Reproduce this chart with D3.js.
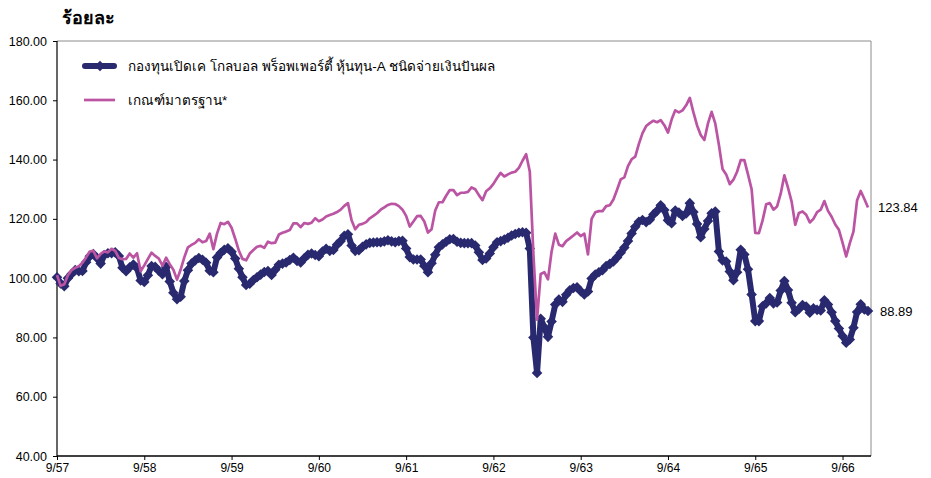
<!DOCTYPE html>
<html>
<head>
<meta charset="utf-8">
<script src="https://cdn.jsdelivr.net/npm/d3@7"></script>
<style>
  body { margin: 0; background: #fff; }
  svg text { font-family: "Liberation Sans", Arial, "Noto Sans", sans-serif; fill: #000; }
</style>
</head>
<body>
<div id="chart"></div>
<script>
(function(){
// half-month steps starting end of Sep 2557 (2014)
const tickLabels = ['9/57', '9/58', '9/59', '9/60', '9/61', '9/62', '9/63', '9/64', '9/65', '9/66']
const yTicks = [40, 60, 80, 100, 120, 140, 160, 180]

const fundName = 'กองทุนเปิดเค โกลบอล พร็อพเพอร์ตี้ หุ้นทุน-A ชนิดจ่ายเงินปันผล'
const benchName = 'เกณฑ์มาตรฐาน*'

const fund = [
  100.3, 98.2, 97.3, 100, 101.4, 102.7, 102.3, 102.4, 105.4, 107.4, 108.1, 106.8,
  104.9, 107.8, 108.4, 108.4, 108.7, 107.5, 103.5, 102.3, 103.7, 104.6, 103.4, 99.2,
  98.7, 101, 104.1, 103.8, 102.5, 101.3, 103.8, 98.9, 95.1, 92.9, 93.7, 99,
  102.7, 104.9, 106, 106.8, 106.2, 105.2, 102.5, 102, 107, 108.5, 109.6, 110.1,
  108.9, 106.6, 103.2, 100.3, 97.7, 98.1, 99.4, 100.3, 101.2, 102.1, 102.4, 101.1,
  102.8, 104.5, 104.9, 105.3, 106.1, 106.9, 105.8, 105.3, 106.7, 107.9, 108.3, 107.8,
  107.4, 109, 109.9, 109.2, 109.5, 111.3, 112.5, 114.3, 114.8, 111, 109.2, 109.4,
  110.6, 111.4, 111.9, 112, 112.1, 112.1, 112.4, 112.8, 112.4, 112.1, 112.5, 112.6,
  110, 107.1, 106.3, 106.3, 106.3, 104.1, 102, 105, 107.9, 110.4, 111.4, 112.3,
  113.1, 113.2, 112.3, 111.9, 111.8, 111.8, 111.8, 111, 108.7, 106.1, 106.6, 108.3,
  110.4, 112.1, 112.5, 113, 113.6, 114.4, 114.9, 115.3, 115.5, 115.3, 110, 80,
  68, 86.3, 83.4, 80.2, 85.4, 91.1, 92.8, 92, 94.4, 95.9, 96.7, 96.9,
  95.6, 94.5, 95.5, 99.9, 101.2, 102, 102.7, 104.1, 104.8, 105.6, 107, 108.6,
  110.3, 112.5, 115.1, 117.3, 119, 119.6, 118.9, 119.7, 121.5, 122.7, 124.6, 123,
  119.5, 118.5, 122.8, 122.1, 121, 121.8, 125.3, 122.3, 118.3, 113.8, 116.6, 119.3,
  121.9, 122.5, 109, 106, 105.6, 102.2, 99.3, 102, 109.6, 108, 103, 94.5,
  85.5, 85.5, 90.5, 91.5, 93.3, 91.5, 91.8, 95.8, 99, 96, 91.7, 88.5,
  89.6, 90.9, 90.4, 88.3, 89.8, 89.3, 89.1, 92.5, 91.1, 88.5, 85.5, 83,
  80.5, 78.2, 79.3, 83.3, 88.6, 91.2, 89.4, 88.89
]

const bench = [
  101, 97.4, 97.9, 101, 102.7, 103.5, 104, 105.2, 107, 109, 109.2, 106.7,
  108.2, 109, 108.7, 109.9, 109.2, 106.8, 106.4, 106.5, 108.3, 106.9, 108.4, 102.3,
  104.3, 106.5, 108.6, 107.5, 106.6, 104.2, 106.9, 104.7, 102.8, 99.5, 102.9, 107,
  110.4, 111.2, 111.9, 113.1, 112.1, 112.5, 115, 109.8, 115, 118.6, 118.2, 119,
  117, 113.3, 109.3, 106.5, 106, 108.3, 109.5, 110.6, 110.9, 110.2, 112.3, 111.8,
  112, 114.7, 115.3, 115.7, 116.2, 118.5, 118.5, 117.2, 118.6, 118.3, 118.7, 120.2,
  119.2, 119.8, 120.8, 121.3, 121.7, 122.3, 123.1, 124.4, 125.3, 119.5, 116.5, 118,
  118.3, 118.9, 120.2, 121, 121.9, 123.1, 123.9, 124.7, 125.1, 125, 124.3, 123.1,
  121, 117.4, 119.1, 120.9, 121, 119.1, 115.4, 116.5, 122.8, 125.6, 125.6, 127.8,
  129.7, 129.7, 128, 128.8, 128.8, 129.1, 130.6, 130, 128, 126.3, 129.3, 130.3,
  131.8, 133.8, 135.5, 134.3, 135, 135.6, 135.9, 137.2, 139.6, 141.8, 136, 108,
  86, 101.4, 102, 99.6, 109, 115, 111.3, 110.8, 112.5, 113.4, 114.4, 115.4,
  114.2, 115, 108, 120, 122.2, 122.6, 122.6, 124.3, 124.6, 126.5, 129.8, 133.3,
  134, 137.8, 140.1, 141, 145.3, 148.9, 151.3, 152.3, 153.1, 152.6, 153.3, 151.6,
  149.1, 153.5, 156.6, 155.9, 156.6, 158.3, 160.8, 155.9, 151.5, 148.3, 146.6, 152.2,
  156.1, 152.2, 145, 136.8, 135, 131.7, 133.2, 135.9, 139.8, 139.8, 135, 130,
  115.3, 115.2, 119.4, 124.9, 125.3, 123.1, 124.2, 128.5, 134.7, 130.5, 125.8, 118,
  122, 122.5, 121.4, 118.8, 120, 122.3, 123.1, 126, 122.7, 120.7, 118.1, 116.3,
  112, 107.3, 111.8, 115.7, 126.3, 129.4, 126.7, 123.84
]

const navy = '#29296f'
const pink = '#bb55a3'

let svg = d3.select('#chart').append('svg')
  .attr('width', 931)
  .attr('height', 478)

let plotLeft = 57, plotRight = 871, plotTop = 41, plotBottom = 456

let x = d3.scaleLinear().domain([0, fund.length - 1]).range([plotLeft, 868])
let y = d3.scaleLinear().domain([40, 180]).range([plotBottom, plotTop])

// frame
svg.append('line').attr('x1', plotLeft).attr('x2', plotRight).attr('y1', plotTop).attr('y2', plotTop)
  .attr('stroke', '#8c8c8c').attr('stroke-width', 1)
svg.append('line').attr('x1', plotRight).attr('x2', plotRight).attr('y1', plotTop).attr('y2', plotBottom)
  .attr('stroke', '#8c8c8c').attr('stroke-width', 1)

// axes
let yAxis = d3.axisLeft(y).tickValues(yTicks).tickFormat(d3.format('.2f')).tickSize(4).tickPadding(6)
let gy = svg.append('g').attr('transform', 'translate(' + plotLeft + ',0)').call(yAxis)
gy.select('.domain').remove()
gy.selectAll('text').attr('font-size', 12.5).style('font-family', '"Liberation Sans", Arial, sans-serif')
gy.selectAll('line').attr('stroke', '#000')

let xAxis = d3.axisBottom(x)
  .tickValues(tickLabels.map((d, i) => i * 24))
  .tickFormat((d, i) => tickLabels[i])
  .tickSize(4).tickPadding(3)
let gx = svg.append('g').attr('transform', 'translate(0,' + plotBottom + ')').call(xAxis)
gx.select('.domain').remove()
gx.selectAll('text').attr('font-size', 12).style('font-family', '"Liberation Sans", Arial, sans-serif')
gx.selectAll('line').attr('stroke', '#000')

svg.append('line').attr('x1', plotLeft).attr('x2', plotLeft).attr('y1', plotTop).attr('y2', plotBottom)
  .attr('stroke', '#000').attr('stroke-width', 1.2)
svg.append('line').attr('x1', plotLeft).attr('x2', plotRight).attr('y1', plotBottom).attr('y2', plotBottom)
  .attr('stroke', '#000').attr('stroke-width', 1.5)

// title
svg.append('text').attr('x', 62).attr('y', 24)
  .attr('font-size', 18).attr('font-weight', 'bold').text('ร้อยละ')

let line = d3.line().x((d, i) => x(i)).y(d => y(d))
let diamond = d3.symbol().type(d3.symbolSquare).size(56)

// fund series
svg.append('path').datum(fund)
  .attr('d', line).attr('fill', 'none')
  .attr('stroke', navy).attr('stroke-width', 6).attr('stroke-linejoin', 'round')
svg.append('g').selectAll('path')
  .data(fund)
  .enter().append('path')
  .attr('d', diamond)
  .attr('transform', (d, i) => 'translate(' + x(i) + ',' + y(d) + ') rotate(45)')
  .attr('fill', navy)

// benchmark series
svg.append('path').datum(bench)
  .attr('d', line).attr('fill', 'none')
  .attr('stroke', pink).attr('stroke-width', 2.7).attr('stroke-linejoin', 'round')

// end labels
svg.append('text').attr('x', 878).attr('y', y(bench[bench.length - 1]) + 5)
  .attr('font-size', 13).text(d3.format('.2f')(bench[bench.length - 1]))
svg.append('text').attr('x', 880).attr('y', y(fund[fund.length - 1]) + 5)
  .attr('font-size', 13).text(d3.format('.2f')(fund[fund.length - 1]))

// legend
let lg = svg.append('g')
lg.append('line').attr('x1', 85).attr('x2', 114).attr('y1', 66).attr('y2', 66)
  .attr('stroke', navy).attr('stroke-width', 6).attr('stroke-linecap', 'round')
lg.append('path').attr('d', diamond).attr('transform', 'translate(100,66) rotate(45)').attr('fill', navy)
lg.append('text').attr('x', 128).attr('y', 71).attr('font-size', 13.5).text(fundName)
lg.append('line').attr('x1', 84).attr('x2', 115).attr('y1', 100).attr('y2', 100)
  .attr('stroke', pink).attr('stroke-width', 2.7)
lg.append('text').attr('x', 128).attr('y', 105).attr('font-size', 13.5).text(benchName)
})()
</script>
</body>
</html>
